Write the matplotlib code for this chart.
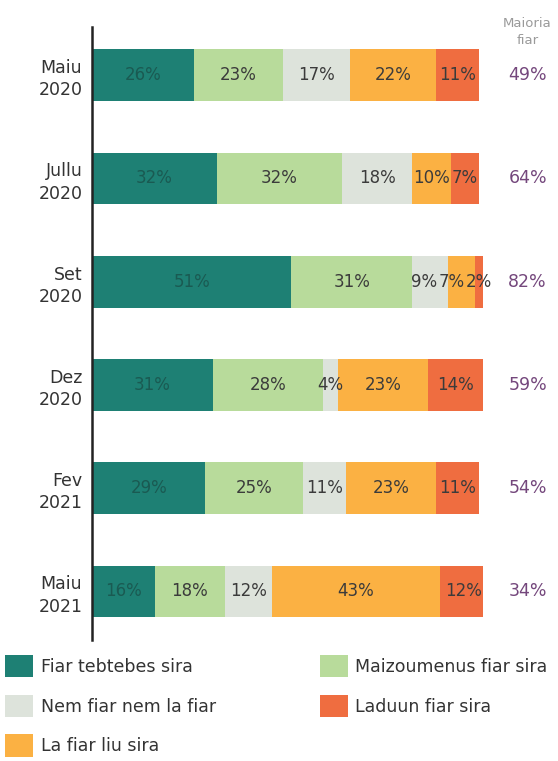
import numpy as np
import matplotlib.pyplot as plt
from matplotlib.patches import Patch

periodus = ["Maiu\n2020", "Jullu\n2020", "Set\n2020", "Dez\n2020", "Fev\n2021", "Maiu\n2021"]
kategoria = ["Fiar tebtebes sira", "Maizoumenus fiar sira", "Nem fiar nem la fiar",
             "La fiar liu sira", "Laduun fiar sira"]
fiar_tebtebes = [26, 32, 51, 31, 29, 16]
maizoumenus = [23, 32, 31, 28, 25, 18]
nem_fiar = [17, 18, 9, 4, 11, 12]
la_fiar_liu = [22, 10, 7, 23, 23, 43]
laduun = [11, 7, 2, 14, 11, 12]
maioria_fiar = [49, 64, 82, 59, 54, 34]

cores = ["#1e8074", "#b8db9b", "#dde3db", "#fbb143", "#ef6d40"]
cor_texto = ["#1a5a52", "#3b3b3b", "#3b3b3b", "#3b3b3b", "#3b3b3b"]

series = [fiar_tebtebes, maizoumenus, nem_fiar, la_fiar_liu, laduun]

fig = plt.figure(figsize=(5.58, 7.61), dpi=100)
ax = fig.add_axes([0.165, 0.159, 0.7, 0.806])
ax.set_xlim(0, 100)
ax.set_ylim(5.47, -0.47)

y = np.arange(len(periodus))
left = np.zeros(len(periodus))
rotulos = [[] for _ in y]
for vals, c, tc in zip(series, cores, cor_texto):
    vals = np.array(vals, dtype=float)
    ax.barh(y, vals, left=left, height=0.5, color=c, edgecolor="none")
    for yi, l, v in zip(y, left, vals):
        t = ax.text(l + v / 2, yi, f"{int(v)}%", ha="center", va="center",
                    fontsize=12, color=tc)
        rotulos[yi].append(t)
    left += vals

# empurra rotulos sobrepostos para a esquerda
fig.canvas.draw()
r = fig.canvas.get_renderer()
px_por_unid = ax.transData.transform((1, 0))[0] - ax.transData.transform((0, 0))[0]
for linha in rotulos:
    for i in range(len(linha) - 2, -1, -1):
        a, b = linha[i], linha[i + 1]
        wa = a.get_window_extent(r).width / px_por_unid
        wb = b.get_window_extent(r).width / px_por_unid
        xa, xb = a.get_position()[0], b.get_position()[0]
        limite = xb - wb / 2 - wa / 2 - 0.3
        if xa > limite:
            a.set_x(limite)

for yi, m in zip(y, maioria_fiar):
    ax.text(111.5, yi, f"{m}%", ha="center", va="center", fontsize=12.5,
            color="#74477c")
ax.text(111.5, -0.42, "Maioria\nfiar", ha="center", va="center", fontsize=9.5,
        color="#9a9a9a", linespacing=1.4)

ax.set_yticks(y)
ax.set_yticklabels(periodus, fontsize=12.5, color="#333333", linespacing=1.3)
ax.tick_params(axis="y", length=0, pad=7)
ax.set_xticks([])
for s in ["top", "right", "bottom"]:
    ax.spines[s].set_visible(False)
ax.spines["left"].set_color("#222222")
ax.spines["left"].set_linewidth(1.8)
ax.set_facecolor("none")

ordem = [0, 2, 3, 1, 4]
handles = [Patch(facecolor=cores[i], label=kategoria[i]) for i in ordem]
fig.legend(handles=handles, ncol=2, loc="upper left",
           bbox_to_anchor=(5 / 558, 1 - 655 / 761), borderaxespad=0, borderpad=0,
           frameon=False, fontsize=12.5, handlelength=1.6, handleheight=1.6,
           handletextpad=0.45, columnspacing=6.0, labelspacing=1.0,
           labelcolor="#333333")

fig.savefig("out.png", dpi=100)
